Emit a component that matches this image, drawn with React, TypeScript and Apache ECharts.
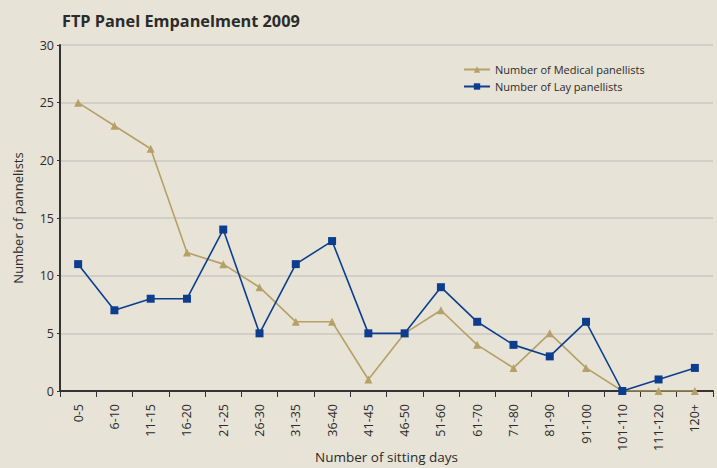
import React, { useEffect, useRef } from "react";
import * as echarts from "echarts";

const categories = ["0-5", "6-10", "11-15", "16-20", "21-25", "26-30", "31-35", "36-40", "41-45", "46-50", "51-60", "61-70", "71-80", "81-90", "91-100", "101-110", "111-120", "120+"];
const medical = [25, 23, 21, 12, 11, 9, 6, 6, 1, 5, 7, 4, 2, 5, 2, 0, 0, 0];
const lay = [11, 7, 8, 8, 14, 5, 11, 13, 5, 5, 9, 6, 4, 3, 6, 0, 1, 2];

const BG = "#e8e3d7";
const TAN = "#b5a068";
const BLUE = "#0d3e8e";
const FONT = "'Open Sans', 'Noto Sans', sans-serif";

export default function App() {
  const ref = useRef<HTMLDivElement>(null);
  useEffect(() => {
    if (!ref.current) return;
    const chart = echarts.init(ref.current, undefined, { renderer: "svg" });
    chart.setOption({
      animation: false,
      backgroundColor: BG,
      textStyle: { fontFamily: FONT },
      title: {
        text: "FTP Panel Empanelment 2009",
        left: 57,
        top: 8,
        textStyle: { fontSize: 16.3, fontWeight: "bold", color: "#2b2b2b", fontFamily: FONT },
      },
      legend: {
        orient: "vertical",
        left: 458,
        top: 59,
        itemWidth: 26,
        itemHeight: 8,
        itemGap: 6,
        textStyle: { fontSize: 11, color: "#2b2b2b", fontFamily: FONT },
        data: ["Number of Medical panellists", "Number of Lay panellists"],
      },
      grid: { left: 60, right: 4, top: 45, bottom: 77, containLabel: false, outerBoundsMode: "none" },
      xAxis: {
        type: "category",
        data: categories,
        boundaryGap: true,
        name: "Number of sitting days",
        nameLocation: "middle",
        nameGap: 59,
        nameMoveOverlap: false,
        nameTextStyle: { fontSize: 13.5, color: "#2b2b2b" },
        axisLine: { lineStyle: { color: "#333", width: 2 } },
        axisTick: { show: true, length: 6, lineStyle: { color: "#333" } },
        axisLabel: { rotate: 90, fontSize: 12.5, color: "#2b2b2b", margin: 13, interval: 0 },
      },
      yAxis: {
        type: "value",
        min: 0,
        max: 30,
        interval: 5,
        name: "Number of pannelists",
        nameLocation: "middle",
        nameGap: 36,
        nameMoveOverlap: false,
        nameTextStyle: { fontSize: 13, color: "#2b2b2b" },
        axisLine: { show: true, lineStyle: { color: "#333", width: 2 } },
        axisTick: { show: true, length: 3, lineStyle: { color: "#333" } },
        axisLabel: { fontSize: 12.5, color: "#2b2b2b", margin: 6 },
        splitLine: { lineStyle: { color: "#cdc9c2", width: 1.5 } },
      },
      series: [
        {
          name: "Number of Medical panellists",
          type: "line",
          data: medical,
          symbol: "triangle",
          symbolSize: 8,
          color: TAN,
          lineStyle: { color: TAN, width: 1.6 },
          itemStyle: { color: TAN },
        },
        {
          name: "Number of Lay panellists",
          type: "line",
          data: lay,
          symbol: "rect",
          symbolSize: 8,
          color: BLUE,
          lineStyle: { color: BLUE, width: 1.6 },
          itemStyle: { color: BLUE },
        },
      ],
    });
    return () => chart.dispose();
  }, []);
  return (
    <div
      ref={ref}
      style={{ position: "fixed", left: 0, top: 0, width: 717, height: 468, background: BG }}
    />
  );
}
